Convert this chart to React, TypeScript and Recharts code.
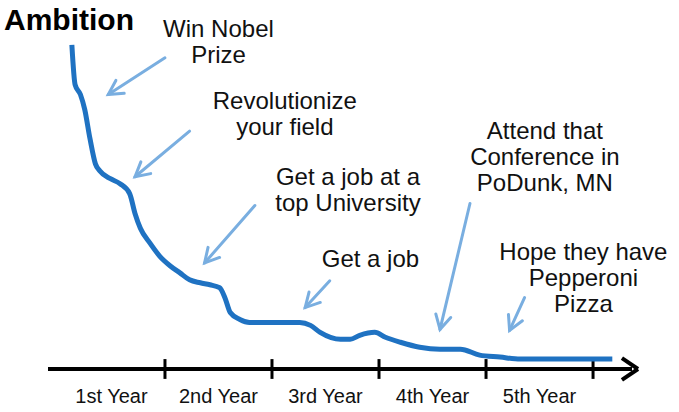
import React from "react";
import { LineChart, Line, XAxis, YAxis, ReferenceLine, ReferenceDot } from "recharts";

const yearsX = [0.13,0.16,0.21,0.25,0.30,0.35,0.39,0.49,0.58,0.67,0.72,0.77,0.86,0.95,1.05,1.14,1.23,1.33,1.42,1.51,1.56,1.61,1.70,1.79,1.98,2.26,2.36,2.45,2.64,2.73,2.82,2.96,3.06,3.20,3.38,3.57,3.76,3.94,4.13,4.32,4.69,5.07,5.18];
const ambition = [327,287,277,262,232,207,200,192,187,177,157,142,127,114,104,97,90,87,85,82,72,57,50,47,47,47,44,37,30,30,34,37,32,27,22,20,20,14,12,10,10,10,10];
const tickLabels = ["1st Year","2nd Year","3rd Year","4th Year","5th Year"];
const labelPos = [0.5,1.5,2.5,3.5,4.5];
const tickPos = [1,2,3,4,5];

const notes = [
  { lines: ["Win Nobel","Prize"], x: 1.5, y: 335, ax1: 1.0, ay1: 314, ax2: 0.47, ay2: 277 },
  { lines: ["Revolutionize","your field"], x: 2.12, y: 262, ax1: 1.23, ay1: 240, ax2: 0.72, ay2: 194 },
  { lines: ["Get a job at a","top University"], x: 2.71, y: 186, ax1: 1.84, ay1: 165, ax2: 1.37, ay2: 107 },
  { lines: ["Get a job"], x: 2.92, y: 103, ax1: 2.54, ay1: 89, ax2: 2.31, ay2: 62 },
  { lines: ["Attend that","Conference in","PoDunk, MN"], x: 4.55, y: 232, ax1: 3.85, ay1: 167, ax2: 3.57, ay2: 40 },
  { lines: ["Hope they have","Pepperoni","Pizza"], x: 4.91, y: 110, ax1: 4.36, ay1: 72, ax2: 4.22, ay2: 39 },
];

const data = yearsX.map((x, i) => ({ x, v: ambition[i] }));
const font = "'Liberation Sans', Arial, sans-serif";

const Arrow = (p: any) => {
  const { x1, y1, x2, y2 } = p;
  const a = Math.atan2(y2 - y1, x2 - x1);
  const L = 16, s = 0.5;
  const hx1 = x2 - L * Math.cos(a - s), hy1 = y2 - L * Math.sin(a - s);
  const hx2 = x2 - L * Math.cos(a + s), hy2 = y2 - L * Math.sin(a + s);
  return (
    <g stroke="#79aee0" strokeWidth={3} fill="none" strokeLinecap="round">
      <line x1={x1} y1={y1} x2={x2} y2={y2} />
      <polyline points={`${hx1},${hy1} ${x2},${y2} ${hx2},${hy2}`} />
    </g>
  );
};

export default function App() {
  return (
    <div style={{ position: "absolute", left: 0, top: 0, background: "#fff" }}>
      <LineChart width={679} height={412} data={data} margin={{ top: 40, left: 48, right: 47, bottom: 13 }}>
        <XAxis dataKey="x" type="number" domain={[-0.093, 5.364]} ticks={labelPos} allowDataOverflow
          tickFormatter={(v: number) => tickLabels[labelPos.indexOf(v)]} height={30}
          axisLine={{ stroke: "#000", strokeWidth: 4 }} tickLine={false} tickMargin={14}
          tick={{ fill: "#111", fontSize: 20, fontFamily: font }} />
        <YAxis type="number" domain={[0, 332]} width={0} tick={false} tickLine={false}
          axisLine={{ stroke: "#000", strokeWidth: 4 }} />
        {tickPos.map((t) => (
          <ReferenceLine key={t} segment={[{ x: t, y: -10 }, { x: t, y: 10 }]} stroke="#000" strokeWidth={3} ifOverflow="visible" />
        ))}
        <ReferenceLine segment={[{ x: 5.42, y: 0 }, { x: 5.27, y: 11 }]} stroke="#000" strokeWidth={4} ifOverflow="visible" />
        <ReferenceLine segment={[{ x: 5.42, y: 0 }, { x: 5.27, y: -11 }]} stroke="#000" strokeWidth={4} ifOverflow="visible" />
        {notes.map((n, i) => (
          <ReferenceLine key={"a" + i} segment={[{ x: n.ax1, y: n.ay1 }, { x: n.ax2, y: n.ay2 }]} ifOverflow="visible" shape={Arrow} />
        ))}
        <Line dataKey="v" type="monotone" stroke="#1f72c2" strokeWidth={5} dot={false} isAnimationActive={false} />
        {notes.map((n, i) => (
          <ReferenceDot key={"t" + i} x={n.x} y={n.y} r={0} ifOverflow="visible"
            shape={(p: any) => (
              <text x={p.cx} y={p.cy} textAnchor="middle" fontSize={24} fontFamily={font} fill="#111">
                {n.lines.map((l, j) => (
                  <tspan key={j} x={p.cx} dy={j === 0 ? 0 : 26}>{l}</tspan>
                ))}
              </text>
            )} />
        ))}
        <text x={4} y={30} fontSize={30} fontWeight="bold" fontFamily="'Liberation Sans Narrow', 'Arial Narrow', 'Liberation Sans', sans-serif" fill="#000">Ambition</text>
      </LineChart>
    </div>
  );
}
